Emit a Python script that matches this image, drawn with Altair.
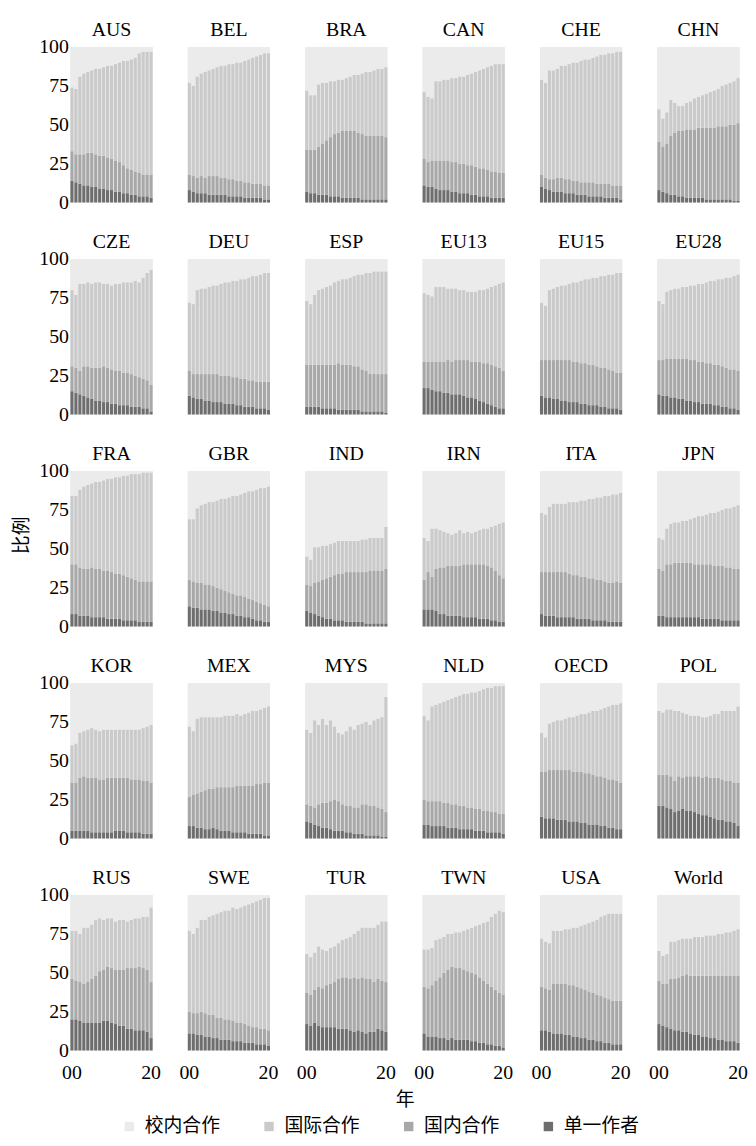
import altair as alt
import pandas as pd

YEARS = list(range(2000, 2021))

COUNTRIES = ["AUS", "BEL", "BRA", "CAN", "CHE", "CHN",
             "CZE", "DEU", "ESP", "EU13", "EU15", "EU28",
             "FRA", "GBR", "IND", "IRN", "ITA", "JPN",
             "KOR", "MEX", "MYS", "NLD", "OECD", "POL",
             "RUS", "SWE", "TUR", "TWN", "USA", "World"]

# 单一作者 share (bottom segment), per year 2000-2020
SINGLE = {
    "AUS": [14,13,12,11,11,10,10,9,9,8,8,7,7,6,6,5,5,4,4,4,3],
    "BEL": [8,7,6,6,6,5,5,5,5,5,4,4,4,4,3,3,3,3,3,2,2],
    "BRA": [7,6,6,5,5,5,4,4,4,3,3,3,3,3,2,2,2,2,2,2,2],
    "CAN": [11,10,10,9,8,8,8,7,7,6,6,6,5,5,4,4,4,3,3,3,3],
    "CHE": [10,9,8,7,7,7,6,6,6,5,5,5,4,4,4,4,3,3,3,3,2],
    "CHN": [8,7,6,5,5,4,4,3,3,3,3,3,2,2,2,2,2,2,2,1,1],
    "CZE": [15,14,13,12,11,10,9,9,8,8,7,7,6,6,6,5,5,5,4,4,2],
    "DEU": [12,11,10,10,9,9,8,8,8,7,7,7,6,6,5,5,5,4,4,4,3],
    "ESP": [5,5,5,5,4,4,4,4,3,3,3,3,3,3,2,2,2,2,2,2,1],
    "EU13": [17,17,16,15,15,14,14,13,13,13,12,11,11,10,9,8,7,6,5,4,4],
    "EU15": [12,11,11,10,10,9,9,8,8,8,7,7,6,6,6,5,5,4,4,4,3],
    "EU28": [13,12,12,11,11,10,10,9,9,8,8,7,7,7,6,6,5,5,4,4,3],
    "FRA": [8,8,7,7,7,6,6,6,6,5,5,5,5,4,4,4,4,3,3,3,3],
    "GBR": [13,12,12,11,11,11,10,10,9,9,8,8,7,7,6,6,5,4,4,3,3],
    "IND": [10,9,8,7,6,5,5,4,4,4,3,3,3,3,3,2,2,2,2,2,2],
    "IRN": [11,11,11,10,8,8,7,7,7,7,6,6,6,6,5,5,5,4,4,3,3],
    "ITA": [8,7,7,7,6,6,6,6,6,5,5,5,5,4,4,4,4,3,3,3,3],
    "JPN": [7,7,6,6,6,6,6,6,6,6,6,5,5,5,5,5,4,4,4,4,4],
    "KOR": [5,5,5,5,5,4,4,4,4,4,4,5,5,5,4,4,4,4,3,3,3],
    "MEX": [8,8,7,7,6,6,7,6,5,5,5,4,4,4,4,3,3,3,3,2,2],
    "MYS": [11,10,9,8,7,7,6,5,5,5,4,4,3,3,3,2,2,2,2,1,1],
    "NLD": [9,9,8,8,8,8,7,7,7,6,6,6,6,5,5,5,4,4,4,4,3],
    "OECD": [14,13,13,13,12,12,12,11,11,11,10,10,9,9,9,8,8,7,7,6,6],
    "POL": [21,21,20,19,17,18,19,18,18,17,16,15,15,14,13,12,12,11,11,10,8],
    "RUS": [20,20,19,18,18,18,18,18,19,19,18,17,16,16,14,14,13,13,13,12,8],
    "SWE": [11,11,10,10,9,9,8,8,7,7,7,6,6,6,5,5,5,4,4,4,3],
    "TUR": [17,16,18,16,15,15,15,15,14,14,14,13,12,13,12,11,12,12,14,13,12],
    "TWN": [11,9,9,9,8,8,7,8,7,7,7,7,6,6,5,5,4,4,3,3,2],
    "USA": [13,13,12,11,11,11,10,10,9,9,8,8,7,7,6,6,5,5,4,4,4],
    "World": [17,16,15,14,13,13,12,12,11,10,10,9,9,8,8,7,7,6,6,6,5],
}

# 单一作者 + 国内合作 (top of the domestic segment)
DOMESTIC_TOP = {
    "AUS": [33,31,31,31,32,32,31,30,30,29,28,27,26,24,22,21,20,19,18,18,18],
    "BEL": [18,17,16,17,16,17,17,17,16,16,15,15,14,14,13,13,12,12,12,11,11],
    "BRA": [34,34,34,36,38,40,42,44,45,46,46,46,46,45,44,43,43,43,43,43,42],
    "CAN": [28,26,27,27,27,27,27,26,26,25,25,24,24,23,22,22,21,20,20,19,19],
    "CHE": [18,16,15,15,16,16,15,15,14,14,13,13,13,13,12,12,12,12,11,11,11],
    "CHN": [39,36,38,43,45,46,46,47,47,47,48,48,48,48,48,49,49,49,50,50,51],
    "CZE": [31,30,28,31,31,30,30,30,31,30,29,28,28,27,27,26,25,24,23,22,19],
    "DEU": [28,26,26,26,26,26,26,26,25,25,25,24,24,23,23,22,22,21,21,21,21],
    "ESP": [32,32,32,32,32,32,32,32,33,32,32,32,31,31,29,28,26,26,26,26,26],
    "EU13": [34,34,34,34,34,34,35,34,35,35,35,35,34,34,34,33,33,32,31,30,28],
    "EU15": [35,35,35,35,35,35,35,35,34,34,33,33,32,32,31,30,30,29,28,27,27],
    "EU28": [35,35,36,36,36,36,36,36,35,35,34,34,33,33,32,32,31,30,29,29,28],
    "FRA": [40,40,38,37,37,38,37,37,36,36,35,34,34,33,32,31,30,29,29,29,29],
    "GBR": [30,29,28,28,27,27,26,25,24,23,22,21,20,20,19,18,17,16,15,14,13],
    "IND": [27,26,28,29,30,31,32,33,34,34,35,35,35,35,35,35,36,36,36,36,37],
    "IRN": [30,35,32,37,38,38,39,39,39,39,40,40,40,40,40,40,39,38,36,33,31],
    "ITA": [35,35,35,35,35,35,35,34,33,33,32,32,31,31,30,30,29,28,28,29,28],
    "JPN": [37,36,40,40,41,41,41,41,41,40,40,40,40,40,39,39,39,38,38,37,37],
    "KOR": [36,36,39,40,39,39,39,38,38,39,39,39,39,39,39,38,38,38,37,37,36],
    "MEX": [27,28,29,30,31,32,32,33,33,33,33,33,34,34,34,34,34,35,35,36,36],
    "MYS": [22,21,20,22,23,23,24,25,24,22,21,21,20,20,22,22,21,21,20,19,17],
    "NLD": [25,24,24,24,24,23,23,22,22,21,21,20,20,19,19,18,18,17,17,16,16],
    "OECD": [43,43,44,44,44,44,44,44,43,43,43,42,42,41,40,40,39,38,38,37,36],
    "POL": [41,41,41,40,37,40,39,40,40,40,40,39,40,39,39,39,38,37,37,36,36],
    "RUS": [46,45,44,43,44,46,48,51,52,54,53,52,52,52,53,53,53,54,53,52,44],
    "SWE": [25,24,24,25,24,23,23,21,21,20,20,19,18,18,17,16,15,15,14,14,13],
    "TUR": [37,36,39,41,40,42,43,44,46,47,47,46,47,46,47,46,46,44,46,45,44],
    "TWN": [41,40,42,45,47,50,52,54,53,53,52,51,50,49,47,45,43,41,39,37,36],
    "USA": [41,40,39,43,43,43,43,42,42,41,40,39,38,37,36,35,34,33,32,32,32],
    "World": [45,43,43,46,46,47,48,49,48,48,48,48,48,48,48,48,48,48,48,48,48],
}

# 单一作者 + 国内合作 + 国际合作 (top of the international segment)
INTL_TOP = {
    "AUS": [74,73,81,83,84,85,86,86,87,88,88,89,90,91,91,92,93,96,97,97,97],
    "BEL": [77,75,81,83,84,85,86,87,88,88,89,89,90,90,91,92,93,94,95,96,96],
    "BRA": [72,69,69,76,77,77,78,78,79,79,80,81,82,82,83,84,84,85,86,86,87],
    "CAN": [71,68,67,78,78,79,79,80,80,81,81,82,83,84,85,86,87,88,89,89,89],
    "CHE": [79,77,85,85,86,88,88,89,90,90,91,92,92,93,94,95,95,96,96,97,97],
    "CHN": [60,54,58,66,64,62,62,64,65,67,68,69,70,71,72,73,75,76,77,78,80],
    "CZE": [80,77,84,84,85,84,85,85,84,84,83,84,84,85,85,85,86,85,88,91,93],
    "DEU": [72,71,80,81,81,82,83,83,84,85,85,86,86,87,87,88,89,89,90,91,91],
    "ESP": [73,71,77,80,81,82,83,85,86,87,87,88,89,90,90,91,91,92,92,92,92],
    "EU13": [78,77,76,82,82,82,81,81,81,80,80,79,79,79,80,80,81,82,83,84,85],
    "EU15": [72,70,80,81,82,83,83,84,85,85,86,87,87,88,88,89,89,90,90,91,91],
    "EU28": [73,71,79,80,81,81,82,82,83,83,84,84,85,86,86,87,87,88,88,89,90],
    "FRA": [84,84,88,90,91,92,93,93,94,95,95,96,96,97,97,98,98,98,99,99,99],
    "GBR": [69,69,76,78,79,80,80,81,82,82,83,84,84,85,86,87,87,88,89,89,90],
    "IND": [45,43,51,51,52,52,53,54,55,55,55,55,55,55,56,56,57,57,57,57,64],
    "IRN": [57,55,63,63,62,61,60,59,60,62,60,61,60,61,62,63,63,64,65,66,67],
    "ITA": [73,72,77,79,79,79,79,80,80,80,81,81,82,82,83,83,84,84,85,85,86],
    "JPN": [57,56,63,66,67,67,68,68,69,70,71,71,72,73,73,74,75,76,76,77,78],
    "KOR": [60,61,68,69,70,71,70,69,70,70,70,70,70,70,70,70,70,70,71,72,73],
    "MEX": [72,69,77,78,78,78,78,78,78,79,79,79,80,79,80,81,82,82,83,84,85],
    "MYS": [70,68,76,73,77,73,76,72,68,67,69,72,70,73,74,75,73,76,77,78,91],
    "NLD": [79,76,85,86,87,88,89,90,91,92,93,93,94,94,95,96,97,97,98,98,98],
    "OECD": [68,65,74,75,76,76,77,78,78,79,80,80,81,82,82,83,84,85,86,86,87],
    "POL": [82,81,83,83,82,82,81,80,79,79,79,78,78,79,80,80,82,82,82,82,85],
    "RUS": [77,77,75,79,79,81,84,85,84,85,85,83,84,84,83,84,85,85,86,86,92],
    "SWE": [77,75,79,84,84,86,87,88,89,90,90,92,91,92,93,94,95,96,97,98,98],
    "TUR": [62,60,63,67,65,64,66,67,69,71,72,73,75,77,79,79,79,79,81,83,83],
    "TWN": [65,65,66,71,72,73,75,75,76,76,77,78,79,80,81,82,83,86,88,90,89],
    "USA": [72,70,69,77,77,77,78,78,79,79,80,81,82,83,84,86,87,88,88,88,88],
    "World": [64,61,62,70,70,71,72,72,72,73,73,73,74,74,74,75,75,76,76,77,78],
}

CATS = ["校内合作", "国际合作", "国内合作", "单一作者"]   # legend order
STACK_ORDER = {"单一作者": 0, "国内合作": 1, "国际合作": 2, "校内合作": 3}
COLORS = ["#ebebeb", "#cacaca", "#a8a8a8", "#6e6e6e"]

rows = []
for idx, c in enumerate(COUNTRIES):
    s, d, i = SINGLE[c], DOMESTIC_TOP[c], INTL_TOP[c]
    for k, yr in enumerate(YEARS):
        seg = {
            "单一作者": s[k],
            "国内合作": d[k] - s[k],
            "国际合作": i[k] - d[k],
            "校内合作": 100 - i[k],
        }
        for cat, v in seg.items():
            rows.append({"country": c, "year": yr, "cat": cat, "value": v,
                         "ord": STACK_ORDER[cat], "r": idx // 6, "c": idx % 6})
df = pd.DataFrame(rows)

SERIF = "Liberation Serif"
CJK = "Noto Sans CJK SC"
W = 83

bars = alt.Chart().mark_bar().encode(
    x=alt.X("year:O",
            scale=alt.Scale(paddingInner=0.22, paddingOuter=0),
            axis=alt.Axis(title=None, ticks=False, domain=False, labelAngle=0,
                          labelExpr="datum.value == 2000 ? '00' : (datum.value == 2020 ? '20' : '')",
                          labelFont=SERIF, labelFontSize=20, labelColor="black",
                          labelPadding=12)),
    y=alt.Y("value:Q", stack="zero",
            scale=alt.Scale(domain=[0, 100], nice=False),
            axis=alt.Axis(title=None, values=[0, 25, 50, 75, 100], ticks=False,
                          domain=False, grid=False, labelFont=SERIF,
                          labelFontSize=20, labelColor="black", labelPadding=2)),
    color=alt.Color("cat:N", scale=alt.Scale(domain=CATS, range=COLORS),
                    legend=alt.Legend(title=None, orient="none", direction="horizontal",
                                      legendX=50, legendY=1080,
                                      labelFont=CJK, labelFontSize=19, labelColor="black",
                                      symbolType="square", symbolSize=90,
                                      symbolStrokeWidth=0, columnPadding=39,
                                      labelOffset=6)),
    order=alt.Order("ord:Q", sort="ascending"),
)

titles = alt.Chart().mark_text(
    font=SERIF, fontSize=20, align="center", baseline="alphabetic", color="black"
).encode(
    x=alt.value(W / 2), y=alt.value(-11), text="country:N"
).transform_filter("datum.year == 2000 && datum.ord == 0")

chart = alt.layer(bars, titles, data=df).properties(
    width=W, height=157
).facet(
    row=alt.Row("r:O", header=alt.Header(labels=False, title="比例", titleOrient="left",
                                         labelOrient="left", labelPadding=0,
                                         titleFont=CJK, titleFontSize=19,
                                         titleFontWeight="normal", titleColor="black",
                                         titlePadding=-3)),
    column=alt.Column("c:O", header=alt.Header(labels=False, title="年", titleOrient="bottom",
                                               labelOrient="bottom", labelPadding=0,
                                               titleFont=CJK, titleFontSize=19,
                                               titleFontWeight="normal", titleColor="black",
                                               titlePadding=-1)),
    spacing={"row": 30, "column": 35.5},
).properties(
    padding={"left": 5, "top": 7, "right": 0, "bottom": 0}
).configure_view(fill="#ebebeb", stroke=None)

chart.save("out.html", embed_options={"renderer": "svg", "actions": False})
